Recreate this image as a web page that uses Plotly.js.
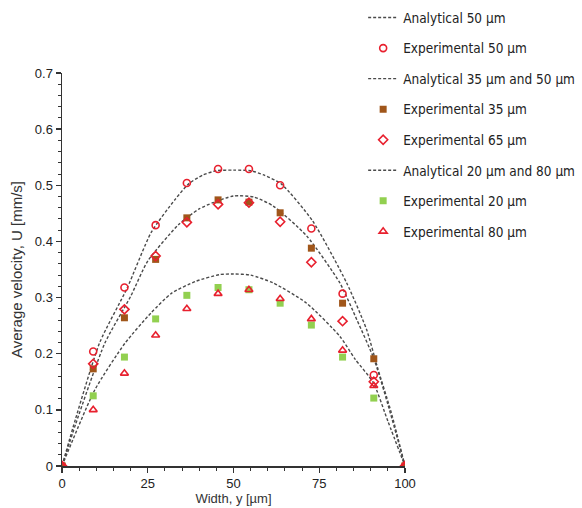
<!DOCTYPE html>
<html>
<head>
<meta charset="utf-8">
<script src="https://cdn.plot.ly/plotly-3.0.1.min.js"></script>
<style>
html,body{margin:0;padding:0;background:#fff;}
#chart{width:582px;height:508px;}
</style>
</head>
<body>
<div id="chart"></div>
<script>
// Experimental positions across the channel width (µm)
const xExp = [0, 9.1, 18.2, 27.3, 36.4, 45.5, 54.5, 63.6, 72.7, 81.8, 90.9, 100];
// Experimental average velocities (mm/s)
const exp50 = [0, 0.204, 0.318, 0.429, 0.504, 0.529, 0.529, 0.500, 0.423, 0.307, 0.162, 0];
const exp35 = [0, 0.173, 0.264, 0.368, 0.442, 0.474, 0.470, 0.451, 0.388, 0.290, 0.191, 0];
const exp65 = [0, 0.182, 0.279, 0.374, 0.434, 0.466, 0.469, 0.435, 0.363, 0.258, 0.150, 0];
const exp20 = [0, 0.125, 0.194, 0.262, 0.304, 0.318, 0.314, 0.290, 0.251, 0.194, 0.121, 0];
const exp80 = [0, 0.100, 0.165, 0.233, 0.280, 0.307, 0.314, 0.298, 0.262, 0.206, 0.143, 0];

// Analytical curves
const xAn50 = [0, 4, 11, 19, 26, 33, 37, 41, 45, 50, 55, 59, 64, 73, 83, 88.8, 92, 96, 100];
const an50  = [0, 0.085, 0.220, 0.317, 0.416, 0.475, 0.503, 0.518, 0.526, 0.527, 0.526, 0.518, 0.502, 0.437, 0.326, 0.243, 0.175, 0.095, 0];
const xAn35 = [0, 4, 12.5, 20, 25, 34, 40, 44, 50, 56, 61.6, 71.3, 81, 86, 91, 95, 100];
const an35  = [0, 0.075, 0.219, 0.302, 0.365, 0.430, 0.458, 0.469, 0.481, 0.479, 0.463, 0.410, 0.326, 0.260, 0.190, 0.110, 0];
const xAn20 = [0, 9.6, 18.4, 26, 32, 39, 46, 50, 55, 61.6, 71.3, 81, 85.5, 90.8, 95, 100];
const an20  = [0, 0.136, 0.219, 0.273, 0.308, 0.329, 0.341, 0.342, 0.340, 0.326, 0.290, 0.231, 0.190, 0.148, 0.080, 0];

const legendNames = [
  "Analytical 50 µm", "Experimental 50 µm", "Analytical 35 µm and 50 µm",
  "Experimental 35 µm", "Experimental 65 µm", "Analytical 20 µm and 80 µm",
  "Experimental 20 µm", "Experimental 80 µm"
];

const red = "#e8202e", brown = "#a0561a", green = "#92d050", dashCol = "#4a4a4a";

function lineTrace(x, y, name, rank) {
  return {x: x, y: y, name: name, type: "scatter", mode: "lines",
    line: {color: dashCol, width: 1.4, dash: "3px,2px", shape: "spline", smoothing: 0.6},
    legendrank: rank, legendgroup: "g" + rank};
}
function markerTrace(x, y, name, rank, symbol, color, filled) {
  return {x: x, y: y, name: name, type: "scatter", mode: "markers",
    marker: filled ? {symbol: symbol, size: 7, color: color, line: {width: 0}}
                   : {symbol: symbol, size: 7, color: color, line: {width: 1.6, color: color}},
    legendrank: rank, legendgroup: "g" + rank};
}

const data = [
  lineTrace(xAn50, an50, legendNames[0], 1),
  lineTrace(xAn35, an35, legendNames[2], 3),
  lineTrace(xAn20, an20, legendNames[5], 6),
  markerTrace(xExp, exp20, legendNames[6], 7, "square", green, true),
  markerTrace(xExp, exp35, legendNames[3], 4, "square", brown, true),
  markerTrace(xExp, exp80, legendNames[7], 8, "triangle-up-open", red, false),
  markerTrace(xExp, exp65, legendNames[4], 5, "diamond-open", red, false),
  markerTrace(xExp, exp50, legendNames[1], 2, "circle-open", red, false)
];

const tickFont = {family: "Liberation Sans, Arial, sans-serif", size: 13, color: "#222"};
const layout = {
  width: 582, height: 508,
  margin: {l: 62, r: 177, t: 73, b: 42, autoexpand: false},
  paper_bgcolor: "#fff", plot_bgcolor: "#fff",
  showlegend: true,
  legend: {
    x: 0.878, y: 1.18, xanchor: "left", yanchor: "top",
    font: {family: "DejaVu Sans Condensed, sans-serif", size: 13.5, color: "#222"},
    traceorder: "grouped", tracegroupgap: 10, bgcolor: "rgba(0,0,0,0)", borderwidth: 0
  },
  xaxis: {
    range: [0, 100], tickvals: [0, 25, 50, 75, 100], ticktext: ["0", "25", "50", "75", "100"],
    showgrid: false, zeroline: false, showline: true, linecolor: "#333", linewidth: 1.5,
    ticks: "outside", ticklen: 5, tickwidth: 1.3, tickcolor: "#333",
    minor: {dtick: 5, ticks: "outside", ticklen: 3, tickwidth: 1, tickcolor: "#333", showgrid: false},
    tickfont: tickFont,
    title: {text: "Width, y [µm]", font: {family: "Liberation Sans, Arial, sans-serif", size: 13, color: "#333"}, standoff: 2}
  },
  yaxis: {
    range: [0, 0.7], tickvals: [0, 0.1, 0.2, 0.3, 0.4, 0.5, 0.6, 0.7],
    ticktext: ["0", "0.1", "0.2", "0.3", "0.4", "0.5", "0.6", "0.7"],
    showgrid: false, zeroline: false, showline: true, linecolor: "#333", linewidth: 1.5,
    ticks: "outside", ticklen: 5, tickwidth: 1.3, tickcolor: "#333",
    minor: {dtick: 0.02, ticks: "outside", ticklen: 3, tickwidth: 1, tickcolor: "#333", showgrid: false},
    tickfont: tickFont,
    title: {text: "Average velocity, U [mm/s]", font: {family: "Liberation Sans, Arial, sans-serif", size: 15, color: "#333"}, standoff: 8}
  },
  xaxis2: {
    overlaying: "x", anchor: "y", range: [0, 100], tickvals: [0, 25, 50, 75, 100],
    showticklabels: false, showgrid: false, zeroline: false, showline: false,
    ticks: "inside", ticklen: 5, tickwidth: 1.3, tickcolor: "#333",
    minor: {dtick: 5, ticks: "inside", ticklen: 3, tickwidth: 1, tickcolor: "#333", showgrid: false}
  },
  yaxis2: {
    overlaying: "y", anchor: "x", range: [0, 0.7], tickvals: [0, 0.1, 0.2, 0.3, 0.4, 0.5, 0.6, 0.7],
    showticklabels: false, showgrid: false, zeroline: false, showline: false,
    ticks: "inside", ticklen: 5, tickwidth: 1.3, tickcolor: "#333",
    minor: {dtick: 0.02, ticks: "inside", ticklen: 3, tickwidth: 1, tickcolor: "#333", showgrid: false}
  }
};

Plotly.newPlot("chart", data, layout, {displayModeBar: false, staticPlot: true});
</script>
</body>
</html>
